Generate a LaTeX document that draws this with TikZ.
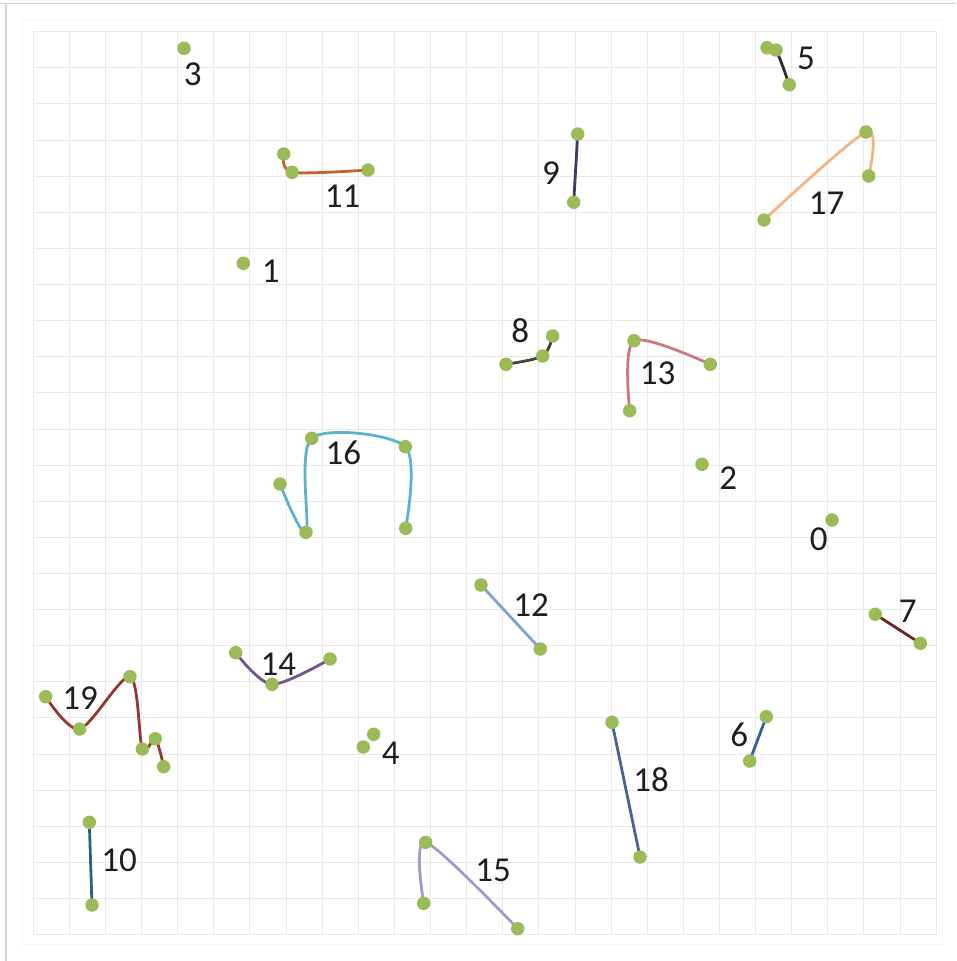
\documentclass[tikz,border=0pt]{standalone}
\usepackage{fontspec}
\setmainfont{Carlito}
\pgfdeclarelayer{gridlayer}
\pgfdeclarelayer{linelayer}
\pgfsetlayers{gridlayer,linelayer,main}
\definecolor{dotgreen}{RGB}{155,187,89}
\definecolor{gridgray}{RGB}{233,233,233}
\definecolor{framegray}{RGB}{212,212,212}
\definecolor{faintgray}{RGB}{246,246,246}
\definecolor{labelblack}{RGB}{30,30,30}
\definecolor{cFive}{RGB}{45,45,45}
\definecolor{cSix}{RGB}{55,95,155}
\definecolor{cSeven}{RGB}{100,40,35}
\definecolor{cEight}{RGB}{60,72,50}
\definecolor{cNine}{RGB}{70,55,100}
\definecolor{cTen}{RGB}{40,100,120}
\definecolor{cEleven}{RGB}{190,100,45}
\definecolor{cTwelve}{RGB}{130,160,210}
\definecolor{cThirteen}{RGB}{205,120,125}
\definecolor{cFourteen}{RGB}{110,85,140}
\definecolor{cFifteen}{RGB}{170,150,200}
\definecolor{cSixteen}{RGB}{90,180,205}
\definecolor{cSeventeen}{RGB}{245,180,130}
\definecolor{cEighteen}{RGB}{70,100,150}
\definecolor{cNineteen}{RGB}{150,55,55}
\begin{document}
\begin{tikzpicture}[x=1pt,y=-1pt,
  dot/.style={circle,fill=dotgreen,draw=none,inner sep=0pt,minimum size=13.5pt},
  lbl/.style={text=labelblack,inner sep=0pt,font=\fontsize{35}{40}\selectfont},
  seg/.style={line width=2.8pt,line cap=round,line join=round},
  smoothcurve/.style={smooth,tension=0.5}]
\useasboundingbox (0,0) rectangle (956,961);
\begin{pgfonlayer}{gridlayer}
  \fill[white] (0,0) rectangle (956,961);
  \draw[faintgray,line width=1pt] (22,20) rectangle (942,944);
  \foreach \i in {0,...,25} {
    \draw[gridgray,line width=1pt] (33.2+\i*36.12,31.7) -- (33.2+\i*36.12,934.7);
    \draw[gridgray,line width=1pt] (33.2,31.7+\i*36.12) -- (936.2,31.7+\i*36.12);
  }
  \draw[framegray,line width=1.6pt] (0,3.5) -- (956,3.5);
  \draw[framegray,line width=1.6pt] (6,3.5) -- (6,961);
  \foreach \x in {133,262,390,518,646,774,903}
    \draw[faintgray,line width=1pt] (\x,0) -- (\x,3);
\end{pgfonlayer}

% dots
\node[dot] (p0) at (832,520) {};
\node[dot] (p1) at (243.3,263.3) {};
\node[dot] (p2) at (702,464.3) {};
\node[dot] (p3) at (184,48.3) {};
\node[dot] (p4a) at (363.3,747) {};
\node[dot] (p4b) at (373.7,734.3) {};
\node[dot] (p5a) at (767,47.7) {};
\node[dot] (p5b) at (776,50) {};
\node[dot] (p5c) at (789.3,84.7) {};
\node[dot] (p6a) at (749.7,761) {};
\node[dot] (p6b) at (766.3,716.7) {};
\node[dot] (p7a) at (875.3,614.3) {};
\node[dot] (p7b) at (920.3,643.3) {};
\node[dot] (p8a) at (506,364.3) {};
\node[dot] (p8b) at (542.7,356) {};
\node[dot] (p8c) at (552.7,336) {};
\node[dot] (p9a) at (577.7,134) {};
\node[dot] (p9b) at (573.7,202.3) {};
\node[dot] (p10a) at (89.3,822.3) {};
\node[dot] (p10b) at (92,905) {};
\node[dot] (p11a) at (283.7,154) {};
\node[dot] (p11b) at (292,172.3) {};
\node[dot] (p11c) at (368,170) {};
\node[dot] (p12a) at (481,585) {};
\node[dot] (p12b) at (540.3,649) {};
\node[dot] (p13a) at (629.7,410.7) {};
\node[dot] (p13b) at (634,340.7) {};
\node[dot] (p13c) at (710.3,364.3) {};
\node[dot] (p14a) at (235.7,652.7) {};
\node[dot] (p14b) at (272,684.3) {};
\node[dot] (p14c) at (330,659) {};
\node[dot] (p15a) at (423.7,903.3) {};
\node[dot] (p15b) at (425.7,842.3) {};
\node[dot] (p15c) at (517.7,928.7) {};
\node[dot] (p16a) at (280,484) {};
\node[dot] (p16b) at (306,532.3) {};
\node[dot] (p16c) at (311.7,438.3) {};
\node[dot] (p16d) at (405.3,446.7) {};
\node[dot] (p16e) at (405.7,528.3) {};
\node[dot] (p17a) at (764,220) {};
\node[dot] (p17b) at (866,132) {};
\node[dot] (p17c) at (868.7,176) {};
\node[dot] (p18a) at (612,722.3) {};
\node[dot] (p18b) at (640,857) {};
\node[dot] (p19a) at (45.7,696.7) {};
\node[dot] (p19b) at (79.7,729) {};
\node[dot] (p19c) at (130,676.7) {};
\node[dot] (p19d) at (142.3,749) {};
\node[dot] (p19e) at (155.3,738.7) {};
\node[dot] (p19f) at (163.7,766.7) {};

% labels
\node[lbl] (l0) at (818.7,539) {0};
\node[lbl] (l1) at (270.7,271.7) {1};
\node[lbl] (l2) at (728.3,478.3) {2};
\node[lbl] (l3) at (192.7,74) {3};
\node[lbl] (l4) at (390.7,753.3) {4};
\node[lbl] (l5) at (806,58.3) {5};
\node[lbl] (l6) at (739.3,735) {6};
\node[lbl] (l7) at (907.7,611.7) {7};
\node[lbl] (l8) at (520.3,331) {8};
\node[lbl] (l9) at (551,173.3) {9};
\node[lbl] (l10) at (119,860) {10};
\node[lbl] (l11) at (342.7,196) {11};
\node[lbl] (l12) at (531,605) {12};
\node[lbl] (l13) at (657.7,373.3) {13};
\node[lbl] (l14) at (278.3,664) {14};
\node[lbl] (l15) at (493,870) {15};
\node[lbl] (l16) at (343.3,453.3) {16};
\node[lbl] (l17) at (826.7,203.3) {17};
\node[lbl] (l18) at (651,780) {18};
\node[lbl] (l19) at (80,698.3) {19};

% connectors
\begin{pgfonlayer}{linelayer}
  \draw[seg,cFive] plot[smoothcurve] coordinates {(p5a.center) (p5b.center) (p5c.center)};
  \draw[seg,cSix] (p6a.center) -- (p6b.center);
  \draw[seg,cSeven] (p7a.center) -- (p7b.center);
  \draw[seg,cEight] plot[smoothcurve] coordinates {(p8a.center) (p8b.center) (p8c.center)};
  \draw[seg,cNine] (p9a.center) -- (p9b.center);
  \draw[seg,cTen] (p10a.center) -- (p10b.center);
  \draw[seg,cEleven] plot[smoothcurve] coordinates {(p11a.center) (p11b.center) (p11c.center)};
  \draw[seg,cTwelve] (p12a.center) -- (p12b.center);
  \draw[seg,cThirteen] plot[smoothcurve] coordinates {(p13a.center) (p13b.center) (p13c.center)};
  \draw[seg,cFourteen] plot[smoothcurve] coordinates {(p14a.center) (p14b.center) (p14c.center)};
  \draw[seg,cFifteen] plot[smoothcurve] coordinates {(p15a.center) (p15b.center) (p15c.center)};
  \draw[seg,cSixteen] plot[smoothcurve] coordinates {(p16a.center) (p16b.center) (p16c.center) (p16d.center) (p16e.center)};
  \draw[seg,cSeventeen] plot[smoothcurve] coordinates {(p17a.center) (p17b.center) (p17c.center)};
  \draw[seg,cEighteen] (p18a.center) -- (p18b.center);
  \draw[seg,cNineteen] plot[smoothcurve] coordinates {(p19a.center) (p19b.center) (p19c.center) (p19d.center) (p19e.center) (p19f.center)};
\end{pgfonlayer}
\end{tikzpicture}
\end{document}
